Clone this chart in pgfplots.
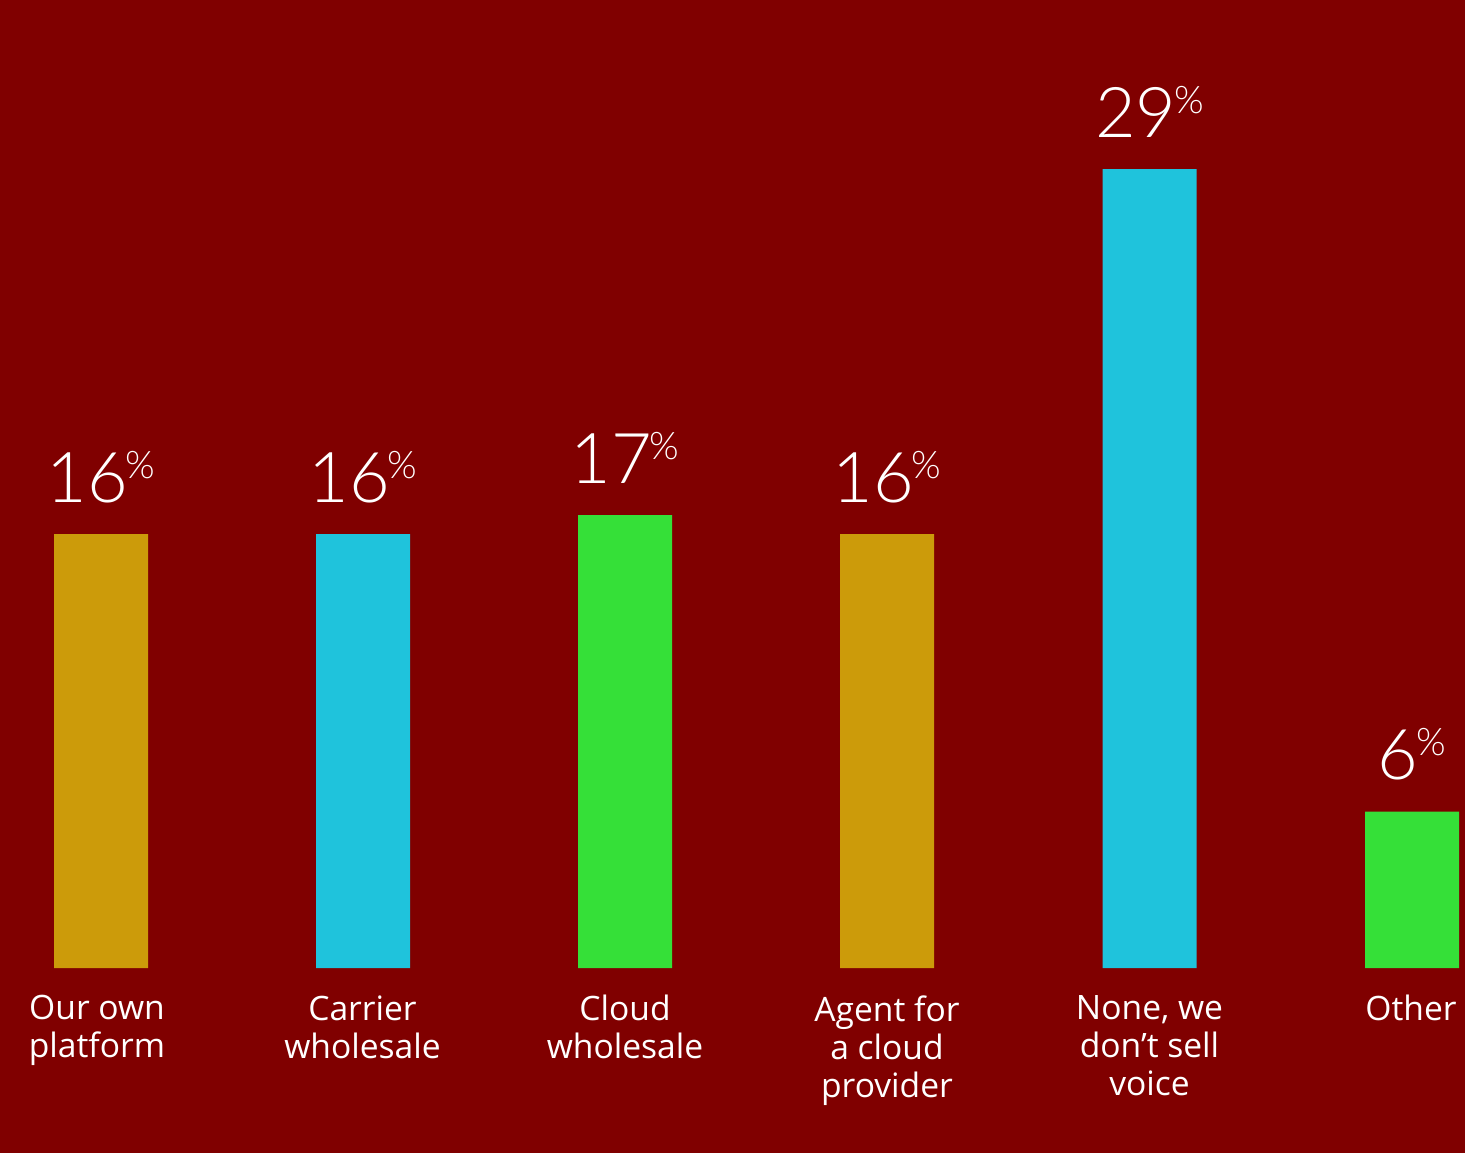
\documentclass[border=0pt]{standalone}
\usepackage{pgfplots}
\pgfplotsset{compat=1.18}
\usepackage{fontspec}
\setmainfont{Open Sans}
\newfontfamily\numfont{Lato}[UprightFont=* Light]
\definecolor{bg}{HTML}{800000}
\definecolor{gold}{HTML}{CC9B0A}
\definecolor{cyanb}{HTML}{1FC3DC}
\definecolor{greenb}{HTML}{35E038}
\newcommand{\pc}[1]{#1\kern-1pt\raisebox{12pt}{\fontsize{19}{19}\selectfont\%}}
\begin{document}
\begin{tikzpicture}
\fill[bg] (0,0) rectangle (732.5pt,576.5pt);
\useasboundingbox (0,0) rectangle (732.5pt,576.5pt);
\begin{axis}[
  at={(0pt,92.5pt)}, anchor=south west,
  width=732.5pt, height=484pt, scale only axis,
  xmin=0, xmax=1465, ymin=0, ymax=35.26,
  axis line style={draw=none},
  ytick=\empty,
  xtick={97,362.5,625,887,1149.5,1411},
  xticklabels={{Our own\\platform},{Carrier\\wholesale},{Cloud\\wholesale},{Agent for\\a cloud\\provider},{None, we\\don’t sell\\voice},{Other}},
  major tick length=0pt,
  xticklabel style={align=center, font=\fontsize{16.8}{19}\selectfont, text=white, anchor=north, inner sep=0pt, yshift=-13.5pt},
  ybar, bar width=47pt, bar shift=0pt,
  nodes near coords,
  point meta=explicit symbolic,
  every node near coord/.append style={anchor=base, inner sep=0pt, yshift=16pt, text=white, font=\numfont\fontsize{35}{35}\selectfont},
]
\addplot[fill=gold, draw=none] coordinates {(101,15.8) [\pc{16}] (887,15.8) [\pc{16}]};
\addplot[fill=cyanb, draw=none] coordinates {(363,15.8) [\pc{16}] (1149.5,29.1) [\pc{29}]};
\addplot[fill=greenb, draw=none] coordinates {(625,16.5) [\pc{17}] (1412,5.7) [\pc{6}]};
\end{axis}
\end{tikzpicture}
\end{document}
